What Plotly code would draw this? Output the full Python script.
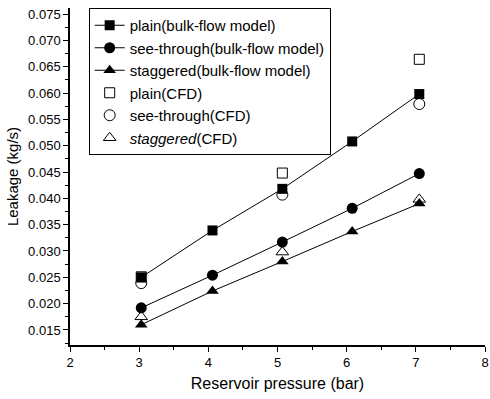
import plotly.graph_objects as go

pressure_bulk = [3.03, 4.06, 5.07, 6.08, 7.05]
pressure_cfd = [3.03, 5.07, 7.05]

plain_bulk = [0.0250, 0.0339, 0.0418, 0.0508, 0.0598]
see_bulk = [0.0192, 0.0254, 0.0317, 0.0381, 0.0447]
stag_bulk = [0.0160, 0.0224, 0.0280, 0.0337, 0.0390]

plain_cfd = [0.0251, 0.0448, 0.0664]
see_cfd = [0.0239, 0.0407, 0.0579]
stag_cfd = [0.0175, 0.0298, 0.0398]

names = ["plain(bulk-flow model)", "see-through(bulk-flow model)", "staggered(bulk-flow model)",
         "plain(CFD)", "see-through(CFD)", "<i>staggered</i>(CFD)"]

fig = go.Figure()
line = dict(color="black", width=1)
fig.add_trace(go.Scatter(x=pressure_bulk, y=plain_bulk, mode="lines+markers", name=names[0],
                         line=line, marker=dict(symbol="square", size=10, color="black")))
fig.add_trace(go.Scatter(x=pressure_bulk, y=see_bulk, mode="lines+markers", name=names[1],
                         line=line, marker=dict(symbol="circle", size=11, color="black")))
fig.add_trace(go.Scatter(x=pressure_bulk, y=stag_bulk, mode="lines+markers", name=names[2],
                         line=line, marker=dict(symbol="triangle-up", size=11, color="black")))
fig.add_trace(go.Scatter(x=pressure_cfd, y=plain_cfd, mode="markers", name=names[3],
                         marker=dict(symbol="square-open", size=10, color="black", line=dict(width=1))))
fig.add_trace(go.Scatter(x=pressure_cfd, y=see_cfd, mode="markers", name=names[4],
                         marker=dict(symbol="circle-open", size=11, color="black", line=dict(width=1))))
fig.add_trace(go.Scatter(x=pressure_cfd, y=stag_cfd, mode="markers", name=names[5],
                         marker=dict(symbol="triangle-up-open", size=11, color="black", line=dict(width=1))))

font = "Liberation Sans, Arial, sans-serif"
fig.update_layout(
    width=490, height=399,
    margin=dict(l=70, r=5, t=8, b=54),
    paper_bgcolor="white", plot_bgcolor="white",
    font=dict(family=font, color="black", size=12),
    legend=dict(x=0.045, y=1.0, xanchor="left", yanchor="top",
                bordercolor="black", borderwidth=1, bgcolor="white",
                font=dict(size=15, family=font), tracegroupgap=0),
    xaxis=dict(range=[2, 8], tickvals=[2, 3, 4, 5, 6, 7, 8], showline=True, linecolor="black",
               linewidth=1.5, ticks="outside", ticklen=5, tickcolor="black", showgrid=False,
               zeroline=False, minor=dict(ticks="outside", ticklen=3, dtick=0.5, tickcolor="black"),
               title=dict(text="Reservoir pressure (bar)", font=dict(size=16), standoff=8),
               tickfont=dict(size=13), automargin=False),
    yaxis=dict(range=[0.01215, 0.07614], tickvals=[0.015, 0.020, 0.025, 0.030, 0.035, 0.040, 0.045,
                                                   0.050, 0.055, 0.060, 0.065, 0.070, 0.075],
               tickformat=".3f", showline=True, linecolor="black", linewidth=1.5,
               ticks="outside", ticklen=5, tickcolor="black", showgrid=False, zeroline=False,
               minor=dict(ticks="outside", ticklen=3, dtick=0.0025, tick0=0.015, tickcolor="black"),
               title=dict(text="Leakage (kg/s)", font=dict(size=15), standoff=6),
               tickfont=dict(size=13), automargin=False),
)
fig.write_html("out.html", config={"displayModeBar": False},
               post_script="document.body.style.margin='0';document.body.style.overflow='hidden';")
